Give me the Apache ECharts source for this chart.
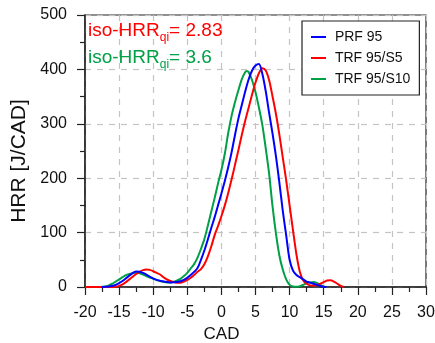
<!DOCTYPE html>
<html><head><meta charset="utf-8">
<script src="https://cdn.jsdelivr.net/npm/echarts@6/dist/echarts.min.js"></script>
<style>html,body{margin:0;padding:0;background:#fff}#c{width:435px;height:343px}</style>
</head><body><div id="c"></div>
<script>
const seriesNames = ['PRF 95', 'TRF 95/S5', 'TRF 95/S10'];
const xTicks = [-20, -15, -10, -5, 0, 5, 10, 15, 20, 25, 30];
const yTicks = [0, 100, 200, 300, 400, 500];

const prfCad = [-17.6,-16.5,-15.5,-14.5,-13.5,-12.5,-11.5,-10.5,-9.5,-8.5,-7.5,-6.5,-5.5,-4.5,-3.5,-3,-2.5,-2,-1.5,-1,-0.5,0,0.5,1,1.5,2,2.5,3,3.5,4,4.5,5,5.5,6,6.5,7,7.5,8,8.5,9,9.5,10,10.5,11,11.5,12,12.5,13,13.5,14,14.5,15,15.4];
const prfHrr = [0,1,4,11,21,28.5,26,19,13,10,8.5,9,13,22,35,50,67,87,108,128,150,172,195,220,248,280,310,335,360,382,398,407,410,392,360,320,282,240,192,140,95,50,30,22,18,14,10,8,6,4,2,0.5,0];

const s5Cad = [-20,-16,-15.5,-15,-14.5,-14,-13.5,-13,-12.5,-12,-11.5,-11,-10.5,-10,-9.5,-9,-8.5,-8,-7.5,-7,-6.5,-6,-5.5,-5,-4.5,-4,-3.5,-3,-2.5,-2,-1.5,-1,-0.5,0,0.5,1,1.5,2,2.5,3,3.5,4,4.5,5,5.5,6,6.5,7,7.5,8,8.5,9,9.5,10,10.5,11,11.5,12,12.5,13,13.5,14,14.5,15,15.5,16,16.5,17,17.5,18];
const s5Hrr = [0,0,0.5,2,5,9,14,19,24,28,31,32,31.5,29,26,23,18,14,11,9,8,8,10,13,17,22,28,33,42,56,74,95,112,130,150,173,198,225,252,280,306,330,354,376,393,402,398,380,350,318,280,238,196,150,104,60,28,12,6,3,2.5,3.5,6,9,12,12.5,10,6,2,0];

const s10Cad = [-17.7,-17,-16.5,-16,-15.5,-15,-14.5,-14,-13.5,-13,-12.5,-12,-11.5,-11,-10.5,-10,-9.5,-9,-8.5,-8,-7.5,-7,-6.5,-6,-5.5,-5,-4.5,-4,-3.5,-3,-2.5,-2,-1.5,-1,-0.5,0,0.5,1,1.5,2,2.5,3,3.5,3.7,4,4.5,5,5.5,6,6.5,7,7.5,8,8.5,9,9.5,10,10.5,11,11.5,12,12.5,13,13.5,14,14.5,15,15.2];
const s10Hrr = [0,1,3,6,10,14,18,22,24,25.5,26,25,23,20,17.5,15,13,11,9.5,8.5,8.5,9.5,12,15,20,26,34,42,54,70,88,112,138,163,190,215,245,283,315,340,362,382,395,397,395,380,358,330,298,255,208,148,98,58,32,14,4,1,0.5,1.5,4,7,8.5,9,7.5,4,1,0];

const colors = ['#0000ff', '#ff0000', '#00a046'];
const annotations = [
  {label: 'iso-HRR', sub: 'qi', value: '= 2.83', color: '#ff0000'},
  {label: 'iso-HRR', sub: 'qi', value: '= 3.6', color: '#00a046'}
];

const pairs = (xs, ys) => xs.map((x, i) => [x, ys[i]]);
const dataSets = [pairs(prfCad, prfHrr), pairs(s5Cad, s5Hrr), pairs(s10Cad, s10Hrr)];

const chart = echarts.init(document.getElementById('c'), null, {renderer: 'canvas'});
const FONT = 'Liberation Sans, Arial, sans-serif';
const axisCol = '#222';
chart.setOption({
  animation: false,
  textStyle: {fontFamily: FONT},
  grid: {left: 85, right: 9, top: 15, bottom: 56, containLabel: false, outerBoundsMode: 'none',
         show: true, borderColor: axisCol, borderWidth: 1.2, backgroundColor: 'transparent'},
  xAxis: {
    type: 'value', min: xTicks[0], max: xTicks[xTicks.length - 1], interval: 5,
    name: 'CAD', nameLocation: 'middle', nameGap: 38,
    nameTextStyle: {fontSize: 17, color: '#111', fontFamily: FONT, padding: [0, 68, 0, 0]},
    axisLine: {show: true, onZero: false, lineStyle: {color: axisCol, width: 1.5}},
    axisTick: {show: true, length: 8, lineStyle: {color: axisCol, width: 1.2}},
    minorTick: {show: true, splitNumber: 2, length: 5, lineStyle: {color: axisCol, width: 1.2}},
    axisLabel: {fontSize: 16, color: '#111', margin: 18, fontFamily: FONT},
    splitLine: {show: true, lineStyle: {color: '#c4c4c4', type: [6, 6], width: 1.2}}
  },
  yAxis: {
    type: 'value', min: yTicks[0], max: yTicks[yTicks.length - 1], interval: 100,
    name: 'HRR [J/CAD]', nameLocation: 'middle', nameGap: 41, nameRotate: 90,
    nameTextStyle: {fontSize: 21, color: '#111', fontFamily: FONT, padding: [0, 20, 0, 0]},
    axisLine: {show: true, onZero: false, lineStyle: {color: axisCol, width: 1.5}},
    axisTick: {show: true, length: 8, lineStyle: {color: axisCol, width: 1.2}},
    minorTick: {show: true, splitNumber: 2, length: 5, lineStyle: {color: axisCol, width: 1.2}},
    axisLabel: {fontSize: 16, color: '#111', margin: 18, fontFamily: FONT},
    splitLine: {show: true, lineStyle: {color: '#c4c4c4', type: [6, 6], width: 1.2}}
  },
  legend: {
    orient: 'vertical', left: 302, top: 21, width: 120,
    padding: [9, 9, 9, 9], itemGap: 7, itemWidth: 15, itemHeight: 2, icon: 'rect',
    backgroundColor: '#fff', borderColor: axisCol, borderWidth: 1.2, borderRadius: 0,
    formatter: n => ' ' + n,
    textStyle: {fontSize: 14, color: '#111', lineHeight: 14, fontFamily: FONT},
    data: seriesNames
  },
  graphic: annotations.map((a, i) => ({
    type: 'text', left: 88, top: 21 + i * 27, z: 10,
    style: {
      text: '{a|' + a.label + '}{b|' + a.sub + '}{a|' + a.value + '}',
      rich: {
        a: {fontSize: 19, fill: a.color, fontFamily: FONT, lineHeight: 22, verticalAlign: 'middle'},
        b: {fontSize: 12, fill: a.color, fontFamily: FONT, lineHeight: 22, verticalAlign: 'bottom', padding: [0, 0, -2, 0]}
      }
    }
  })),
  series: seriesNames.map((n, i) => ({
    name: n, type: 'line', data: dataSets[i], smooth: 0.3, symbol: 'none',
    lineStyle: {color: colors[i], width: 2}, itemStyle: {color: colors[i]}, z: 3 - i + 2
  }))
});
</script></body></html>
